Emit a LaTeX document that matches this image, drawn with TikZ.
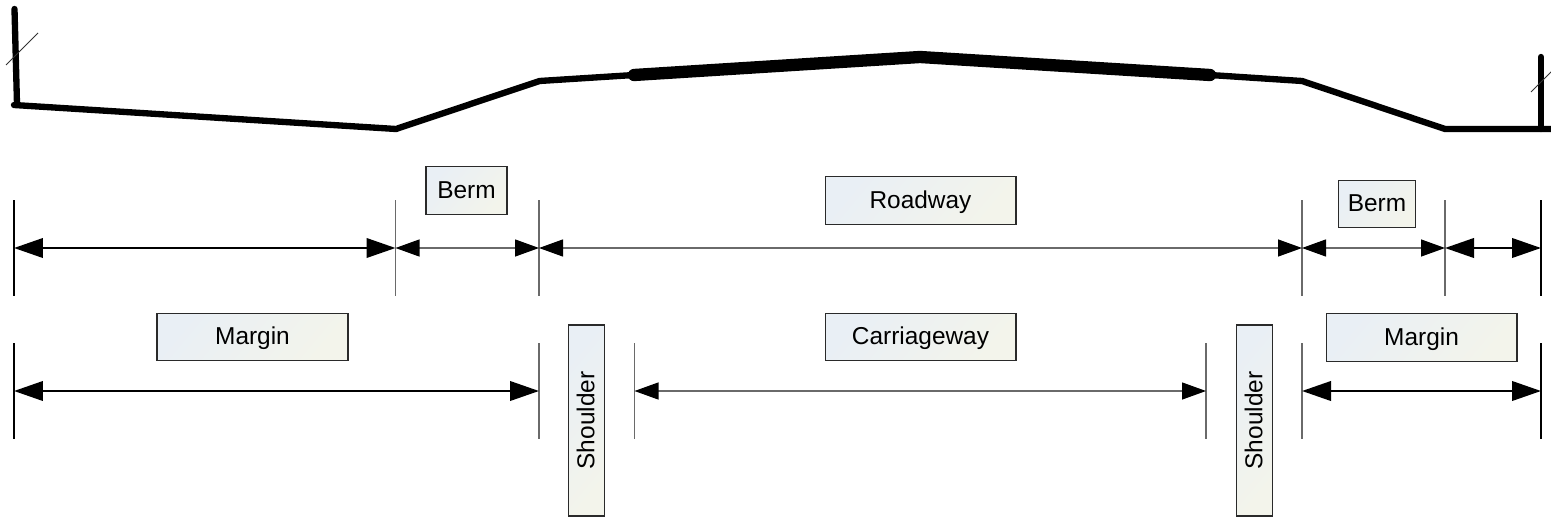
\documentclass[tikz,border=0pt]{standalone}
\usepackage{fontspec}
\setmainfont{Liberation Sans}
\usetikzlibrary{arrows.meta}
\definecolor{boxleft}{HTML}{E9EFF5}
\definecolor{boxright}{HTML}{F3F4EB}
\definecolor{boxline}{HTML}{2A2A2A}
\definecolor{tickgray}{HTML}{6A6A6A}
\tikzset{
    labelbox/.style={draw=boxline,line width=0.6pt,left color=boxleft,right color=boxright,shading angle=50,minimum height=0.95cm,inner sep=0pt,text height=11pt,text depth=2pt,font=\fontsize{13.9pt}{16pt}\selectfont},
    widebox/.style={labelbox,minimum width=3.82cm},
    ground/.style={line width=3.6pt,line cap=round,line join=round},
    lane/.style={line width=7pt,line cap=round,line join=round},
    slash/.style={line width=0.5pt,draw=black!80},
    thinmeasure/.style={draw=tickgray,line width=0.75pt,{Triangle[length=0.48cm,width=0.34cm,black]}-{Triangle[length=0.48cm,width=0.34cm,black]}},
    boldmeasure/.style={line width=1.3pt,{Triangle[length=0.58cm,width=0.39cm]}-{Triangle[length=0.58cm,width=0.39cm]}},
    tickthin/.style={draw=tickgray,line width=0.6pt},
    tickbold/.style={line width=1.1pt}
}
\begin{document}
\begin{tikzpicture}[x=0.02cm,y=-0.02cm]
    \useasboundingbox (0,0) rectangle (1551,517);

    % Road profile
    \draw[ground] (14.5,9) -- (17,104);
    \draw[ground] (14,105) -- (396,129) -- (539.5,81) -- (634,75);
    \draw[lane] (634,75) -- (920,57) -- (1210,75);
    \draw[ground] (1210,75) -- (1302,81) -- (1445,129) -- (1555,129);
    \draw[ground] (1541,57) -- (1541,129);
    \draw[slash] (6,65) -- (38,33);
    \draw[slash] (1531,92) -- (1552,71);

    % Upper row of ticks
    \foreach \n/\x/\s in {a/14/tickbold,b/395.5/tickthin,c/539/tickthin,d/1302/tickthin,e/1445/tickthin,f/1541/tickbold}
    {
        \coordinate (up\n) at (\x,248);
        \draw[\s] (\x,200) -- (\x,296);
    }

    % Lower row of ticks
    \foreach \n/\x/\s in {a/14/tickbold,b/539/tickthin,c/634.5/tickthin,d/1206/tickthin,e/1302/tickthin,f/1541/tickbold}
    {
        \coordinate (low\n) at (\x,391);
        \draw[\s] (\x,343) -- (\x,439);
    }

    % Upper measures
    \draw[boldmeasure] (upa) -- (upb);
    \draw[thinmeasure] (upb) -- (upc);
    \draw[thinmeasure] (upc) -- (upd);
    \draw[thinmeasure] (upd) -- (upe);
    \draw[boldmeasure] (upe) -- (upf);

    % Lower measures
    \draw[boldmeasure] (lowa) -- (lowb);
    \draw[thinmeasure] (lowc) -- (lowd);
    \draw[boldmeasure] (lowe) -- (lowf);

    % Labels
    \node[labelbox,minimum width=1.62cm] (bermleft) at (466.5,190.5) {Berm};
    \node[widebox] (roadway) at (920.5,200.5) {Roadway};
    \node[labelbox,minimum width=1.54cm] (bermright) at (1377,204) {Berm};
    \node[widebox] (marginleft) at (252.5,337) {Margin};
    \node[widebox] (carriageway) at (920.5,337) {Carriageway};
    \node[widebox] (marginright) at (1421.5,337.5) {Margin};

    % Shoulders
    \node[labelbox,rotate=90,minimum width=3.82cm,minimum height=0.72cm] (shoulderleft) at (586.5,420.5) {Shoulder};
    \node[labelbox,rotate=90,minimum width=3.82cm,minimum height=0.72cm] (shoulderright) at (1254.5,420.5) {Shoulder};
\end{tikzpicture}
\end{document}
